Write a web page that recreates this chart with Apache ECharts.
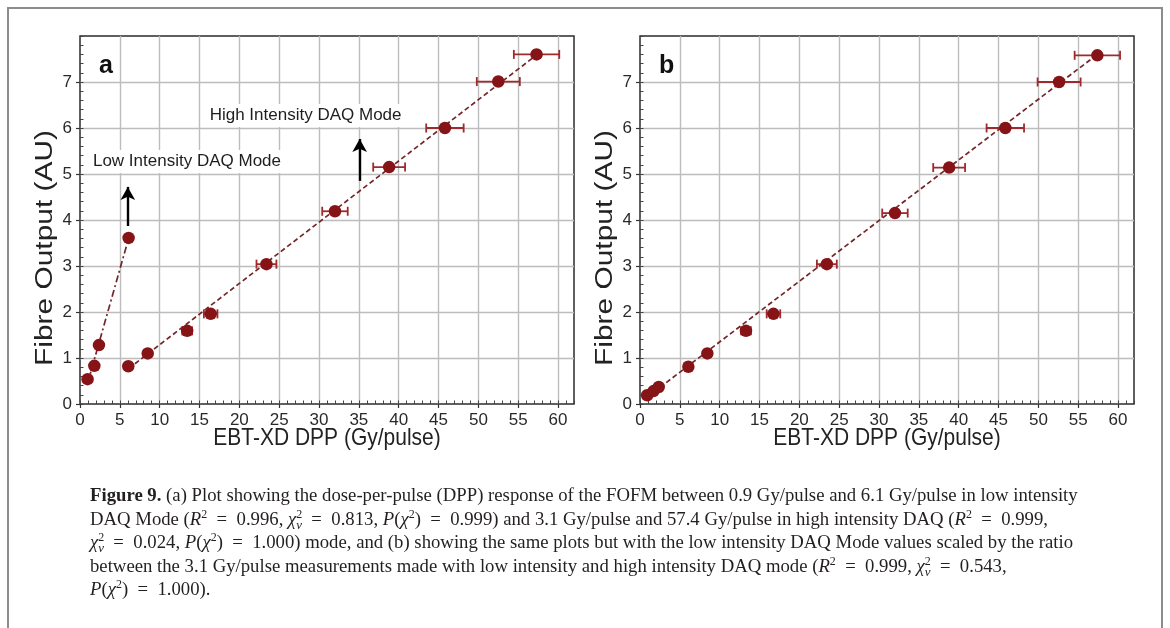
<!DOCTYPE html>
<html>
<head>
<meta charset="utf-8">
<script src="https://cdn.jsdelivr.net/npm/echarts@6/dist/echarts.min.js"></script>
<style>
html,body{margin:0;padding:0;background:#fff;}
#chart{width:1170px;height:628px;}
</style>
</head>
<body>
<div id="chart"></div>
<script>
// ---------- data ----------
// Panel a: low intensity DAQ mode
const lowA_x   = [0.95, 1.8, 2.38, 6.1];
const lowA_y   = [0.54, 0.83, 1.28, 3.61];
const lowA_err = [0.05, 0.09, 0.12, 0.30];
// Panel a: high intensity DAQ mode
const highA_x   = [6.06, 8.5, 13.45, 16.4, 23.4, 32.0, 38.8, 45.8, 52.5, 57.3];
const highA_y   = [0.82, 1.10, 1.59, 1.96, 3.04, 4.19, 5.15, 6.00, 7.01, 7.60];
const highA_err = [0.30, 0.43, 0.62, 0.85, 1.25, 1.60, 2.00, 2.35, 2.70, 2.85];
// Panel a fit lines (end points)
const fitLowA_x  = [0.95, 6.1];
const fitLowA_y  = [0.45, 3.60];
const fitHighA_x = [6.1, 57.4];
const fitHighA_y = [0.77, 7.60];

// Panel b: low intensity values scaled + high intensity values
const lowB_x   = [0.9, 1.7, 2.35];
const lowB_y   = [0.19, 0.28, 0.37];
const lowB_err = [0.05, 0.09, 0.12];
const highB_x   = [6.07, 8.45, 13.3, 16.75, 23.45, 32.0, 38.8, 45.85, 52.6, 57.4];
const highB_y   = [0.81, 1.10, 1.59, 1.96, 3.04, 4.15, 5.14, 6.00, 7.00, 7.58];
const highB_err = [0.30, 0.43, 0.62, 0.85, 1.25, 1.60, 2.00, 2.35, 2.70, 2.85];
const fitB_x = [0.9, 57.4];
const fitB_y = [0.15, 7.60];

// axes
const xMin = 0, xMax = 62, xInterval = 5, xMinorInterval = 1;
const yMin = 0, yMax = 8, yInterval = 1, yMinorInterval = 0.2;

// annotations
const lowLabel = 'Low Intensity DAQ Mode';
const lowLabelPos = [1.25, 5.27];
const lowArrow_x = [6.0, 6.0];
const lowArrow_y = [3.87, 4.72];
const highLabel = 'High Intensity DAQ Mode';
const highLabelPos = [15.9, 6.27];
const highArrow_x = [35.1, 35.1];
const highArrow_y = [4.85, 5.76];

// ---------- helpers ----------
const zip = (xs, ys) => xs.map((x, i) => [x, ys[i]]);
const zip3 = (xs, ys, es) => xs.map((x, i) => [x, ys[i], es[i]]);

const SANS = '"Liberation Sans", Arial, sans-serif';
const SERIF = '"Liberation Serif", "Times New Roman", serif';
const MARK = '#861416';
const ERR = '#9e2a2e';
const FIT = '#742528';

function mainX(gi) {
  return {
    gridIndex: gi, type: 'value', min: xMin, max: xMax, interval: xInterval, position: 'bottom',
    axisLine: { show: false },
    axisTick: { show: true, length: 4, lineStyle: { color: '#333', width: 1.2 } },
    axisLabel: { fontSize: 17, color: '#2a2a2a', margin: 8, fontFamily: SANS, showMaxLabel: false },
    splitLine: { show: true, showMinLine: false, showMaxLine: false, lineStyle: { color: '#bdbdbd', width: 1.4 } }
  };
}
function minorX(gi) {
  return {
    gridIndex: gi, type: 'value', min: xMin, max: xMax, interval: xMinorInterval, position: 'bottom',
    axisLine: { show: false },
    axisTick: { show: true, inside: true, length: 3.5, lineStyle: { color: '#444', width: 1 } },
    axisLabel: { show: false }, splitLine: { show: false }
  };
}
function mainY(gi) {
  return {
    gridIndex: gi, type: 'value', min: yMin, max: yMax, interval: yInterval, position: 'left',
    axisLine: { show: false },
    axisTick: { show: true, length: 4, lineStyle: { color: '#333', width: 1.2 } },
    axisLabel: { fontSize: 17, color: '#2a2a2a', margin: 8, fontFamily: SANS, showMaxLabel: false },
    splitLine: { show: true, showMinLine: false, showMaxLine: false, lineStyle: { color: '#bdbdbd', width: 1.4 } }
  };
}
function minorY(gi) {
  return {
    gridIndex: gi, type: 'value', min: yMin, max: yMax, interval: yMinorInterval, position: 'left',
    axisLine: { show: false },
    axisTick: { show: true, inside: true, length: 3.5, lineStyle: { color: '#444', width: 1 } },
    axisLabel: { show: false }, splitLine: { show: false }
  };
}

function errSeries(xi, yi, data) {
  return {
    type: 'custom', xAxisIndex: xi, yAxisIndex: yi, z: 3, silent: true,
    data: data,
    renderItem: function (params, api) {
      const x = api.value(0), y = api.value(1), e = api.value(2);
      const p1 = api.coord([x - e, y]);
      const p2 = api.coord([x + e, y]);
      const st = { stroke: ERR, lineWidth: 1.8 };
      return {
        type: 'group',
        children: [
          { type: 'line', shape: { x1: p1[0], y1: p1[1], x2: p2[0], y2: p2[1] }, style: st },
          { type: 'line', shape: { x1: p1[0], y1: p1[1] - 4.5, x2: p1[0], y2: p1[1] + 4.5 }, style: st },
          { type: 'line', shape: { x1: p2[0], y1: p2[1] - 4.5, x2: p2[0], y2: p2[1] + 4.5 }, style: st }
        ]
      };
    }
  };
}
function scatterSeries(xi, yi, data) {
  return {
    type: 'scatter', xAxisIndex: xi, yAxisIndex: yi, z: 4, silent: true,
    symbol: 'circle', symbolSize: 12.5, itemStyle: { color: MARK, opacity: 1 }, data: data
  };
}
function fitSeries(xi, yi, data, dash, extra) {
  return Object.assign({
    type: 'line', xAxisIndex: xi, yAxisIndex: yi, z: 2, silent: true,
    symbol: 'none', data: data,
    lineStyle: { color: FIT, width: 1.7, type: dash }
  }, extra || {});
}
function labelPoint(pos, text) {
  return {
    coord: pos, symbol: 'circle', symbolSize: 0,
    label: {
      show: true, position: 'right', distance: 0, formatter: text,
      fontFamily: SANS, fontSize: 17, color: '#1e1e1e',
      backgroundColor: '#fff', padding: [3, 3, 3, 3]
    }
  };
}
function arrowLine(xs, ys) {
  return [
    { coord: [xs[0], ys[0]], symbol: 'none' },
    { coord: [xs[1], ys[1]], symbol: 'arrow', symbolSize: [11, 13] }
  ];
}

// caption (rich text)
const EQ = '\u2002=\u2002';
const captionLines = [
  '{b|Figure 9.} (a) Plot showing the dose-per-pulse (DPP) response of the FOFM between 0.9 Gy/pulse and 6.1 Gy/pulse in low intensity',
  'DAQ Mode ({i|R}{sup|2}' + EQ + '0.996, {i|χ}{sup0|2}{sub|ν}' + EQ + '0.813, {i|P}({i|χ}{sup|2})' + EQ + '0.999) and 3.1 Gy/pulse and 57.4 Gy/pulse in high intensity DAQ ({i|R}{sup|2}' + EQ + '0.999,',
  '{i|χ}{sup0|2}{sub|ν}' + EQ + '0.024, {i|P}({i|χ}{sup|2})' + EQ + '1.000) mode, and (b) showing the same plots but with the low intensity DAQ Mode values scaled by the ratio',
  'between the 3.1 Gy/pulse measurements made with low intensity and high intensity DAQ mode ({i|R}{sup|2}' + EQ + '0.999, {i|χ}{sup0|2}{sub|ν}' + EQ + '0.543,',
  '{i|P}({i|χ}{sup|2})' + EQ + '1.000).'
];

const chart = echarts.init(document.getElementById('chart'), null, { renderer: 'canvas' });

const gridCommon = { top: 36, width: 494, height: 368, show: true, borderColor: '#2b2b2b', borderWidth: 1.5, backgroundColor: '#fff', containLabel: false };

const option = {
  backgroundColor: '#fff',
  animation: false,
  grid: [
    Object.assign({ left: 80 }, gridCommon),
    Object.assign({ left: 640 }, gridCommon)
  ],
  xAxis: [mainX(0), minorX(0), mainX(1), minorX(1)],
  yAxis: [mainY(0), minorY(0), mainY(1), minorY(1)],
  series: [
    // panel a
    fitSeries(0, 0, zip(fitLowA_x, fitLowA_y), [7, 3, 2, 3], {
      markPoint: { silent: true, data: [labelPoint(lowLabelPos, lowLabel)] },
      markLine: { silent: true, symbol: ['none', 'arrow'], label: { show: false },
        lineStyle: { color: '#000', width: 2.4, type: 'solid' }, data: [arrowLine(lowArrow_x, lowArrow_y)] }
    }),
    fitSeries(0, 0, zip(fitHighA_x, fitHighA_y), [5, 3], {
      markPoint: { silent: true, data: [labelPoint(highLabelPos, highLabel)] },
      markLine: { silent: true, symbol: ['none', 'arrow'], label: { show: false },
        lineStyle: { color: '#000', width: 2.4, type: 'solid' }, data: [arrowLine(highArrow_x, highArrow_y)] }
    }),
    errSeries(0, 0, zip3(lowA_x, lowA_y, lowA_err)),
    errSeries(0, 0, zip3(highA_x, highA_y, highA_err)),
    scatterSeries(0, 0, zip(lowA_x, lowA_y)),
    scatterSeries(0, 0, zip(highA_x, highA_y)),
    // panel b
    fitSeries(2, 2, zip(fitB_x, fitB_y), [5, 3]),
    errSeries(2, 2, zip3(lowB_x, lowB_y, lowB_err)),
    errSeries(2, 2, zip3(highB_x, highB_y, highB_err)),
    scatterSeries(2, 2, zip(lowB_x, lowB_y)),
    scatterSeries(2, 2, zip(highB_x, highB_y))
  ],
  graphic: [
    { type: 'rect', shape: { x: 8, y: 8, width: 1154, height: 700 }, style: { fill: 'none', stroke: '#8c8c8c', lineWidth: 2 }, z: 0, silent: true },
    { type: 'text', x: 99, y: 66, style: { text: 'a', font: 'bold 25px ' + SANS, fill: '#111', verticalAlign: 'middle' }, z: 100 },
    { type: 'text', x: 659, y: 66, style: { text: 'b', font: 'bold 25px ' + SANS, fill: '#111', verticalAlign: 'middle' }, z: 100 },
    { type: 'text', x: 46, y: 248, rotation: Math.PI / 2, scaleX: 1.3, style: { text: 'Fibre Output (AU)', font: '23px ' + SANS, fill: '#222', align: 'center', verticalAlign: 'middle' }, z: 100 },
    { type: 'text', x: 606, y: 248, rotation: Math.PI / 2, scaleX: 1.3, style: { text: 'Fibre Output (AU)', font: '23px ' + SANS, fill: '#222', align: 'center', verticalAlign: 'middle' }, z: 100 },
    { type: 'text', x: 327, y: 439, scaleY: 1.1, style: { text: 'EBT-XD DPP (Gy/pulse)', font: '21px ' + SANS, fill: '#222', align: 'center', verticalAlign: 'middle' }, z: 100 },
    { type: 'text', x: 887, y: 439, scaleY: 1.1, style: { text: 'EBT-XD DPP (Gy/pulse)', font: '21px ' + SANS, fill: '#222', align: 'center', verticalAlign: 'middle' }, z: 100 },
    {
      type: 'text', x: 90, y: 485, scaleX: 1.04, z: 100,
      style: {
        text: captionLines.join('\n'),
        fontFamily: SERIF, fontSize: 18, fill: '#231f20', lineHeight: 23.5,
        align: 'left', verticalAlign: 'top',
        rich: {
          b: { fontFamily: SERIF, fontSize: 18, fontWeight: 'bold', lineHeight: 23.5 },
          i: { fontFamily: SERIF, fontSize: 18, fontStyle: 'italic', lineHeight: 23.5 },
          sup: { fontFamily: SERIF, fontSize: 11.5, lineHeight: 15, verticalAlign: 'top' },
          sup0: { fontFamily: SERIF, fontSize: 11.5, lineHeight: 15, verticalAlign: 'top', width: 0 },
          sub: { fontFamily: SERIF, fontSize: 12.5, fontStyle: 'italic', lineHeight: 13, verticalAlign: 'bottom' }
        }
      }
    }
  ]
};
chart.setOption(option);
</script>
</body>
</html>
